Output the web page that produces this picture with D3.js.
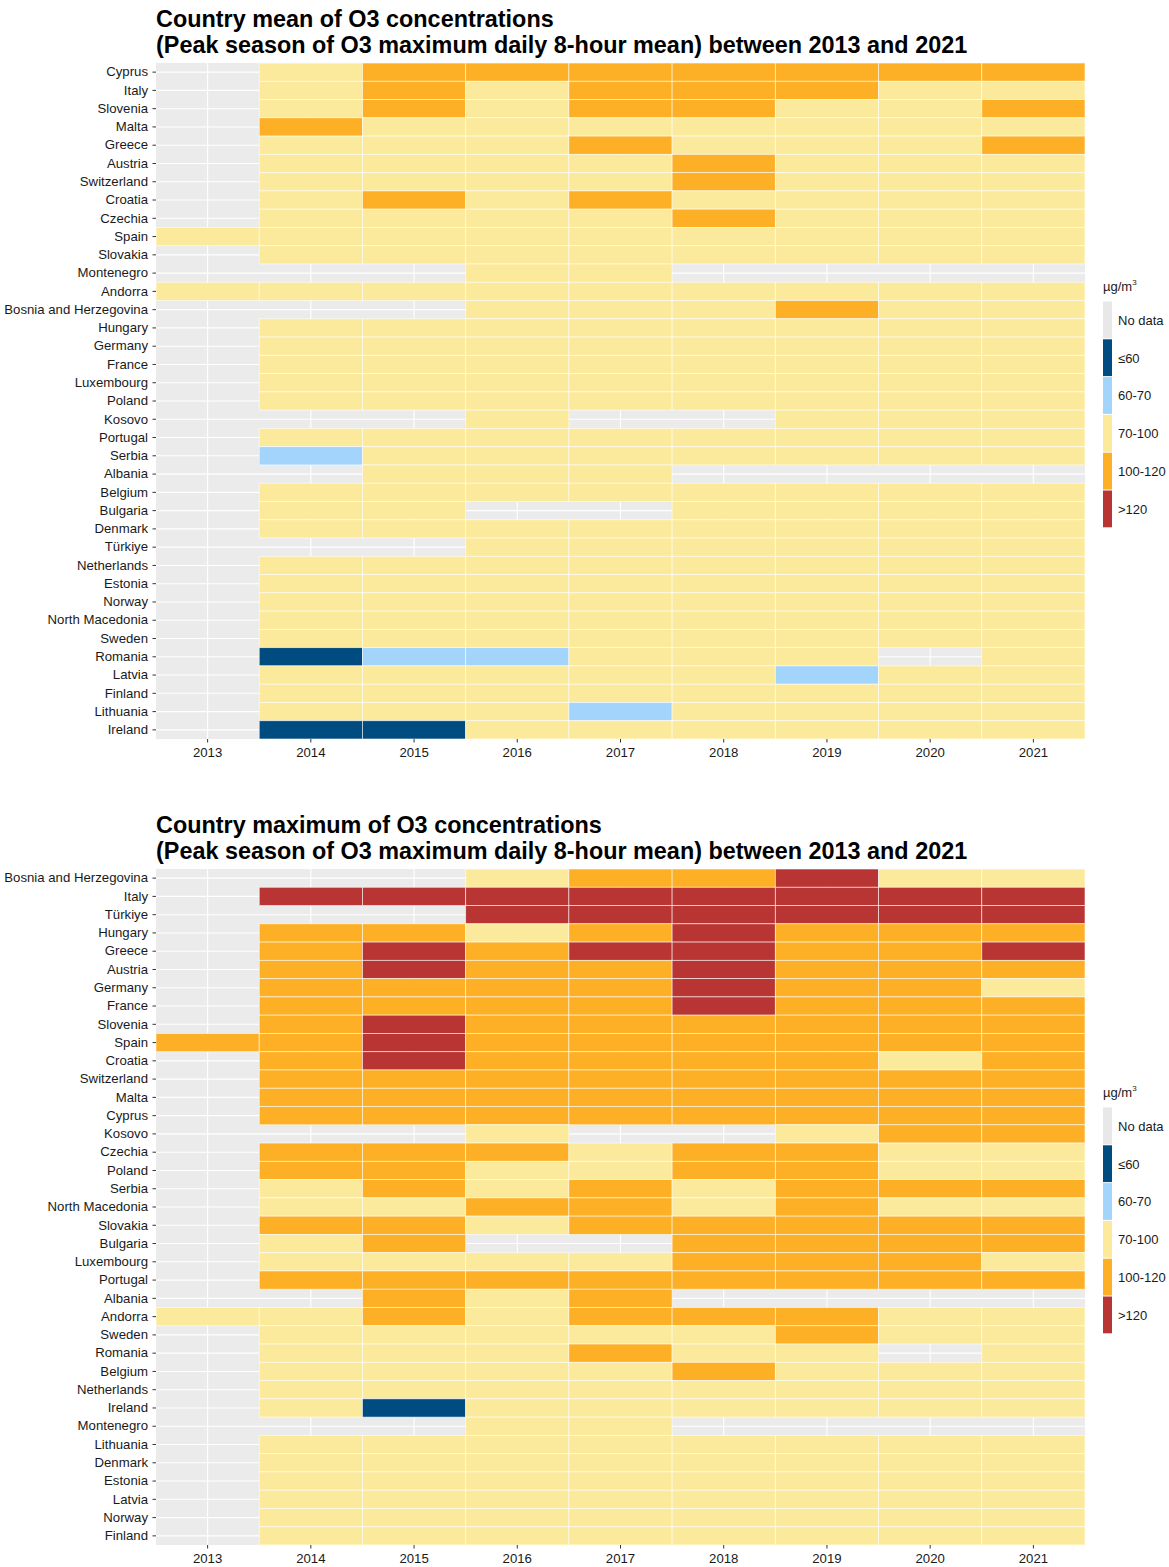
<!DOCTYPE html>
<html>
<head>
<meta charset="utf-8">
<script src="https://cdn.jsdelivr.net/npm/d3@7"></script>
<style>
  html, body { margin: 0; padding: 0; background: #fff; }
  text { font-family: "Liberation Sans", Arial, sans-serif; }
</style>
</head>
<body>
<svg id="chart" width="1169" height="1567"></svg>
<script>
const years = [2013, 2014, 2015, 2016, 2017, 2018, 2019, 2020, 2021];

const classLabels = ["No data", "≤60", "60-70", "70-100", "100-120", ">120"];
const classColors = ["#E8E8E8", "#004C80", "#A3D5FC", "#FCEA9C", "#FDB025", "#B93533"];

// values: 0 = no data, 1 = ≤60, 2 = 60-70, 3 = 70-100, 4 = 100-120, 5 = >120
const meanCountries = ["Cyprus","Italy","Slovenia","Malta","Greece","Austria","Switzerland","Croatia","Czechia","Spain","Slovakia","Montenegro","Andorra","Bosnia and Herzegovina","Hungary","Germany","France","Luxembourg","Poland","Kosovo","Portugal","Serbia","Albania","Belgium","Bulgaria","Denmark","Türkiye","Netherlands","Estonia","Norway","North Macedonia","Sweden","Romania","Latvia","Finland","Lithuania","Ireland"];
const meanValues = [
  [0,3,4,4,4,4,4,4,4],
  [0,3,4,3,4,4,4,3,3],
  [0,3,4,3,4,4,3,3,4],
  [0,4,3,3,3,3,3,3,3],
  [0,3,3,3,4,3,3,3,4],
  [0,3,3,3,3,4,3,3,3],
  [0,3,3,3,3,4,3,3,3],
  [0,3,4,3,4,3,3,3,3],
  [0,3,3,3,3,4,3,3,3],
  [3,3,3,3,3,3,3,3,3],
  [0,3,3,3,3,3,3,3,3],
  [0,0,0,3,3,0,0,0,0],
  [3,3,3,3,3,3,3,3,3],
  [0,0,0,3,3,3,4,3,3],
  [0,3,3,3,3,3,3,3,3],
  [0,3,3,3,3,3,3,3,3],
  [0,3,3,3,3,3,3,3,3],
  [0,3,3,3,3,3,3,3,3],
  [0,3,3,3,3,3,3,3,3],
  [0,0,0,3,0,0,3,3,3],
  [0,3,3,3,3,3,3,3,3],
  [0,2,3,3,3,3,3,3,3],
  [0,0,3,3,3,0,0,0,0],
  [0,3,3,3,3,3,3,3,3],
  [0,3,3,0,0,3,3,3,3],
  [0,3,3,3,3,3,3,3,3],
  [0,0,0,3,3,3,3,3,3],
  [0,3,3,3,3,3,3,3,3],
  [0,3,3,3,3,3,3,3,3],
  [0,3,3,3,3,3,3,3,3],
  [0,3,3,3,3,3,3,3,3],
  [0,3,3,3,3,3,3,3,3],
  [0,1,2,2,3,3,3,0,3],
  [0,3,3,3,3,3,2,3,3],
  [0,3,3,3,3,3,3,3,3],
  [0,3,3,3,2,3,3,3,3],
  [0,1,1,3,3,3,3,3,3]
];

const maxCountries = ["Bosnia and Herzegovina","Italy","Türkiye","Hungary","Greece","Austria","Germany","France","Slovenia","Spain","Croatia","Switzerland","Malta","Cyprus","Kosovo","Czechia","Poland","Serbia","North Macedonia","Slovakia","Bulgaria","Luxembourg","Portugal","Albania","Andorra","Sweden","Romania","Belgium","Netherlands","Ireland","Montenegro","Lithuania","Denmark","Estonia","Latvia","Norway","Finland"];
const maxValues = [
  [0,0,0,3,4,4,5,3,3],
  [0,5,5,5,5,5,5,5,5],
  [0,0,0,5,5,5,5,5,5],
  [0,4,4,3,4,5,4,4,4],
  [0,4,5,4,5,5,4,4,5],
  [0,4,5,4,4,5,4,4,4],
  [0,4,4,4,4,5,4,4,3],
  [0,4,4,4,4,5,4,4,4],
  [0,4,5,4,4,4,4,4,4],
  [4,4,5,4,4,4,4,4,4],
  [0,4,5,4,4,4,4,3,4],
  [0,4,4,4,4,4,4,4,4],
  [0,4,4,4,4,4,4,4,4],
  [0,4,4,4,4,4,4,4,4],
  [0,0,0,3,0,0,3,4,4],
  [0,4,4,4,3,4,4,3,3],
  [0,4,4,3,3,4,4,3,3],
  [0,3,4,3,4,3,4,4,4],
  [0,3,3,4,4,3,4,3,3],
  [0,4,4,3,4,4,4,4,4],
  [0,3,4,0,0,4,4,4,4],
  [0,3,3,3,3,4,4,4,3],
  [0,4,4,4,4,4,4,4,4],
  [0,0,4,3,4,0,0,0,0],
  [3,3,4,3,4,4,4,3,3],
  [0,3,3,3,3,3,4,3,3],
  [0,3,3,3,4,3,3,0,3],
  [0,3,3,3,3,4,3,3,3],
  [0,3,3,3,3,3,3,3,3],
  [0,3,1,3,3,3,3,3,3],
  [0,0,0,3,3,0,0,0,0],
  [0,3,3,3,3,3,3,3,3],
  [0,3,3,3,3,3,3,3,3],
  [0,3,3,3,3,3,3,3,3],
  [0,3,3,3,3,3,3,3,3],
  [0,3,3,3,3,3,3,3,3],
  [0,3,3,3,3,3,3,3,3]
];

const svg = d3.select("#chart");
svg.append("rect").attr("width", 1169).attr("height", 1567).attr("fill", "#fff");

function drawPanel(opts) {
  const { top, countries, values, title1, title2 } = opts;
  const left = 156, right = 1085, ptop = top + 63, pbottom = top + 739;
  const g = svg.append("g");

  g.append("text").attr("x", left).attr("y", top + 26.5)
    .attr("font-size", 23.4).attr("font-weight", "bold").attr("fill", "#000").text(title1);
  g.append("text").attr("x", left).attr("y", top + 52.5)
    .attr("font-size", 23.4).attr("font-weight", "bold").attr("fill", "#000").text(title2);

  const x = d3.scaleBand().domain(years).range([left, right]).padding(0);
  const y = d3.scaleBand().domain(countries).range([ptop, pbottom]).padding(0);

  g.append("rect").attr("x", left).attr("y", ptop)
    .attr("width", right - left).attr("height", pbottom - ptop).attr("fill", "#EBEBEB");

  // grid lines
  g.selectAll(".vg").data(years).enter().append("line")
    .attr("x1", d => x(d) + x.bandwidth() / 2).attr("x2", d => x(d) + x.bandwidth() / 2)
    .attr("y1", ptop).attr("y2", pbottom).attr("stroke", "#fff").attr("stroke-width", 1.1);
  g.selectAll(".hg").data(countries).enter().append("line")
    .attr("y1", d => y(d) + y.bandwidth() / 2).attr("y2", d => y(d) + y.bandwidth() / 2)
    .attr("x1", left).attr("x2", right).attr("stroke", "#fff").attr("stroke-width", 1.1);

  const cells = [];
  countries.forEach((c, i) => {
    years.forEach((yr, j) => {
      const v = values[i][j];
      if (v > 0) cells.push({ c, yr, v });
    });
  });

  g.selectAll(".cell").data(cells).enter().append("rect")
    .attr("x", d => x(d.yr)).attr("y", d => y(d.c))
    .attr("width", x.bandwidth()).attr("height", y.bandwidth())
    .attr("fill", d => classColors[d.v])
    .attr("stroke", "#fff").attr("stroke-opacity", 0.7).attr("stroke-width", 0.8);

  const yAxis = d3.axisLeft(y).tickSize(3.5).tickPadding(4.5);
  const ya = g.append("g").attr("transform", `translate(${left},0)`).call(yAxis);
  ya.select(".domain").remove();
  ya.selectAll(".tick line").attr("stroke", "#333").attr("stroke-width", 1);
  ya.selectAll(".tick text").attr("font-size", 13.2).attr("fill", "#1a1a1a")
    .attr("font-family", "'Liberation Sans', Arial, sans-serif");

  const xAxis = d3.axisBottom(x).tickSize(3.5).tickPadding(5.5);
  const xa = g.append("g").attr("transform", `translate(0,${pbottom})`).call(xAxis);
  xa.select(".domain").remove();
  xa.selectAll(".tick line").attr("stroke", "#333").attr("stroke-width", 1);
  xa.selectAll(".tick text").attr("font-size", 13.2).attr("fill", "#1a1a1a")
    .attr("font-family", "'Liberation Sans', Arial, sans-serif");

  // legend
  const lx = 1103, ly = top + 301.5, kh = 37.8, kw = 9;
  const lt = g.append("text").attr("x", lx).attr("y", top + 291).attr("font-size", 13).attr("fill", "#1a1a1a");
  lt.append("tspan").text("µg/m");
  lt.append("tspan").attr("font-size", 8).attr("dy", -6).text("3");

  const lg = g.selectAll(".key").data(classLabels).enter().append("g")
    .attr("transform", (d, i) => `translate(${lx},${ly + i * kh})`);
  lg.append("rect").attr("width", kw).attr("height", kh - 1)
    .attr("fill", (d, i) => classColors[i]);
  lg.append("text").attr("x", 15).attr("y", kh / 2 + 4.5).attr("font-size", 13)
    .attr("fill", "#1a1a1a").text(d => d);
}

drawPanel({
  top: 0,
  countries: meanCountries,
  values: meanValues,
  title1: "Country mean of O3 concentrations",
  title2: "(Peak season of O3 maximum daily 8-hour mean) between 2013 and 2021"
});

drawPanel({
  top: 806,
  countries: maxCountries,
  values: maxValues,
  title1: "Country maximum of O3 concentrations",
  title2: "(Peak season of O3 maximum daily 8-hour mean) between 2013 and 2021"
});
</script>
</body>
</html>
